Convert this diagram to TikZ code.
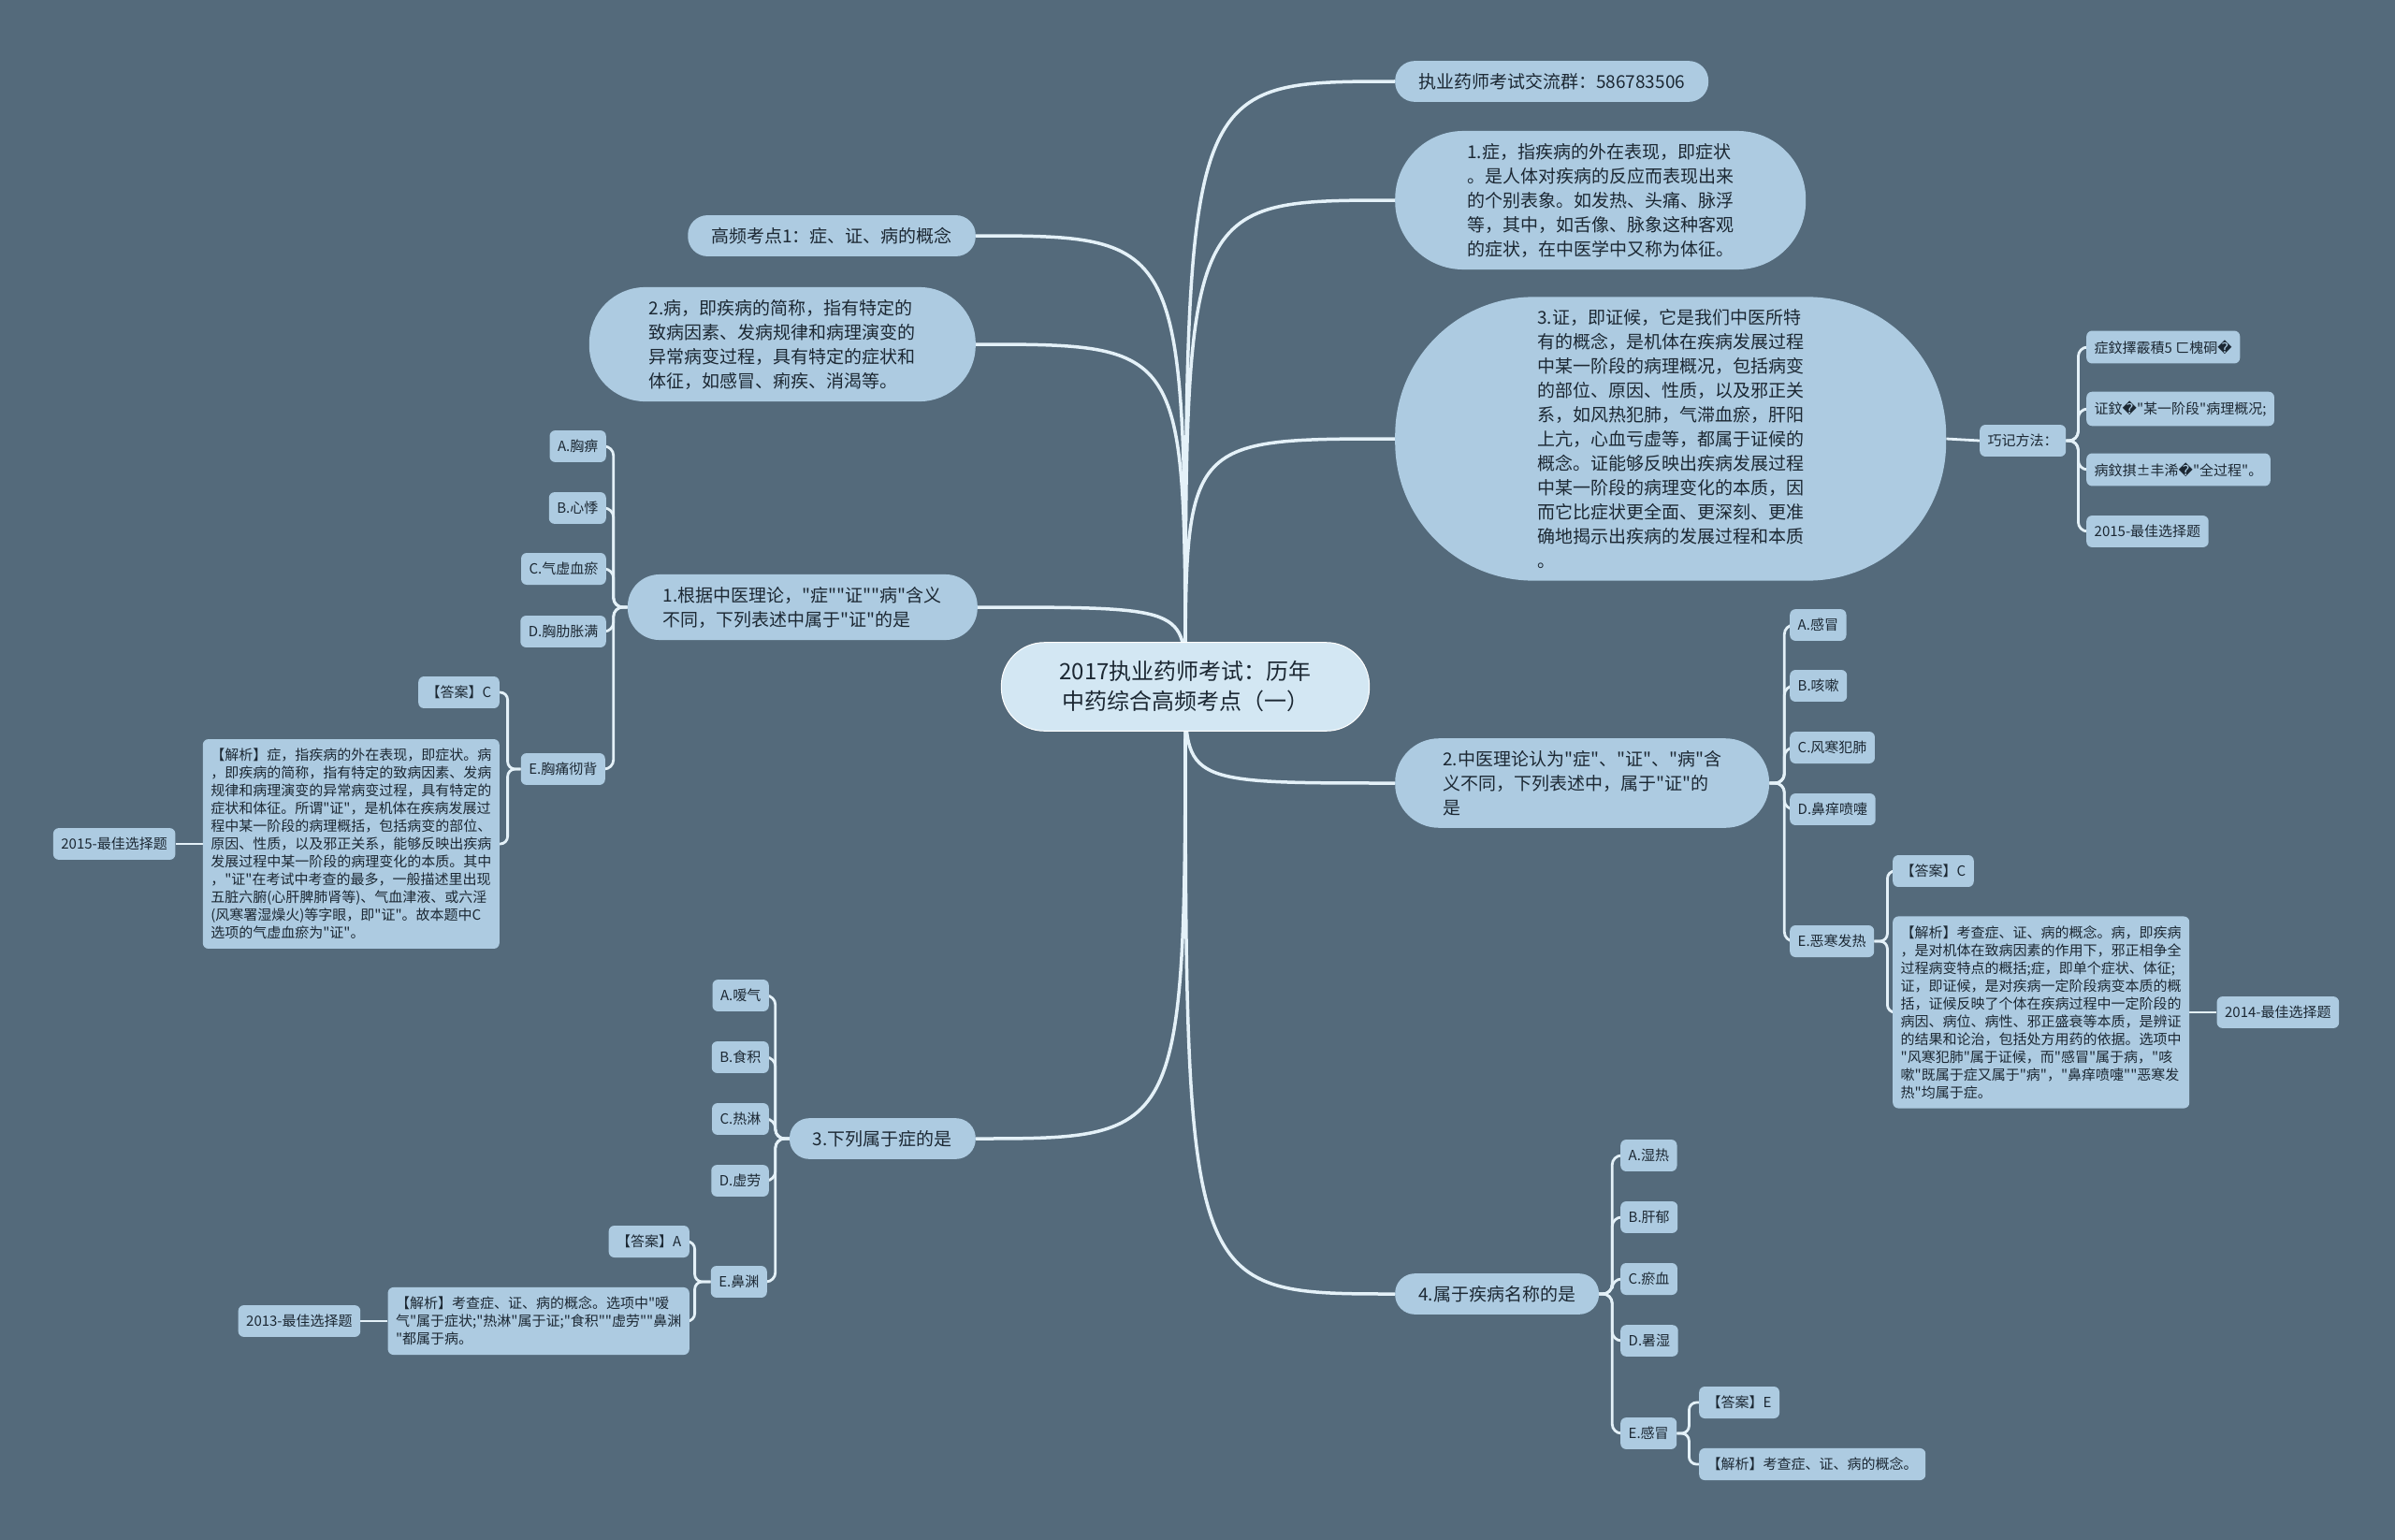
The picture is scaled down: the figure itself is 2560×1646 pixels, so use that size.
\documentclass[tikz,border=0pt]{standalone}
\usepackage{fontspec}
\setmainfont{Noto Sans CJK SC}[Ligatures=TeXOff]
\newfontfamily\dvfont{DejaVu Sans}
\usetikzlibrary{positioning,calc}

\definecolor{bgslate}{HTML}{546A7B}
\definecolor{boxblue}{HTML}{ADCBE1}
\definecolor{rootblue}{HTML}{D3E7F3}
\definecolor{linkwhite}{HTML}{E4F1F8}
\definecolor{ink}{HTML}{1C2833}
\newcommand{\repchar}{{\dvfont\symbol{"FFFD}}}

\pgfdeclarelayer{bg}
\pgfsetlayers{bg,main}

\begin{document}
\begin{tikzpicture}[x=1pt, y=-1pt,
  root/.style={rectangle, rounded corners=46pt, fill=rootblue, draw=white,
               line width=1pt, text=ink, align=center,
               inner xsep=62pt, inner ysep=20pt,
               font=\fontsize{24}{32}\selectfont},
  topic/.style={rectangle, rounded corners=#1, inner xsep=#1+4pt,
                fill=boxblue, text=ink, align=left, inner ysep=13pt,
                font=\fontsize{19}{26}\selectfont},
  leaf/.style={rectangle, rounded corners=6pt, fill=boxblue, text=ink,
               align=left, inner xsep=8.5pt, inner ysep=10pt,
               font=\fontsize{15}{19}\selectfont},
  link/.style={draw=linkwhite, line width=3.5pt},
  branch/.style={draw=linkwhite, line width=2.8pt, rounded corners=10pt}]
\useasboundingbox (0,0) rectangle (2560,1646);
\begin{pgfonlayer}{bg}
\fill[bgslate] (0,0) rectangle (2560,1646);
\end{pgfonlayer}

% centre
\node[root] (root) at (1267,734) {2017执业药师考试：历年\\中药综合高频考点（一）};

% right side
\node[topic=21pt, anchor=west] (group) at (1491,87) {执业药师考试交流群：586783506};
\node[topic=73pt, anchor=west] (zheng1) at (1491,214)
  {1.症，指疾病的外在表现，即症状\\。是人体对疾病的反应而表现出来\\的个别表象。如发热、头痛、脉浮\\等，其中，如舌像、脉象这种客观\\的症状，在中医学中又称为体征。};
\node[topic=148pt, anchor=west] (zheng3) at (1491,469)
  {3.证，即证候，它是我们中医所特\\有的概念，是机体在疾病发展过程\\中某一阶段的病理概况，包括病变\\的部位、原因、性质，以及邪正关\\系，如风热犯肺，气滞血瘀，肝阳\\上亢，心血亏虚等，都属于证候的\\概念。证能够反映出疾病发展过程\\中某一阶段的病理变化的本质，因\\而它比症状更全面、更深刻、更准\\确地揭示出疾病的发展过程和本质\\。};
\node[leaf, anchor=west] (qiji) at (2116,471) {巧记方法：};
\node[leaf, anchor=west] (c1) at (2230,371) {症鈫擇霰積5 ㄈ槐硐\repchar};
\node[leaf, anchor=west] (c2) at (2230,437) {证鈫\repchar"某一阶段"病理概况;};
\node[leaf, anchor=west] (c3) at (2230,502) {病鈫掑±丰浠\repchar"全过程"。};
\node[leaf, anchor=west] (c4) at (2230,568) {2015-最佳选择题};

\node[topic=47pt, anchor=west] (q2) at (1491,837)
  {2.中医理论认为"症"、"证"、"病"含\\义不同，下列表述中，属于"证"的\\是};
\node[leaf, anchor=west] (q2a) at (1913,668) {A.感冒};
\node[leaf, anchor=west] (q2b) at (1913,733) {B.咳嗽};
\node[leaf, anchor=west] (q2c) at (1913,799) {C.风寒犯肺};
\node[leaf, anchor=west] (q2d) at (1913,865) {D.鼻痒喷嚏};
\node[leaf, anchor=west] (q2e) at (1913,1006) {E.恶寒发热};
\node[leaf, anchor=west] (q2ans) at (2023,931) {【答案】C};
\node[leaf, anchor=west] (q2exp) at (2023,1082)
  {【解析】考查症、证、病的概念。病，即疾病\\，是对机体在致病因素的作用下，邪正相争全\\过程病变特点的概括;症，即单个症状、体征;\\证，即证候，是对疾病一定阶段病变本质的概\\括，证候反映了个体在疾病过程中一定阶段的\\病因、病位、病性、邪正盛衰等本质，是辨证\\的结果和论治，包括处方用药的依据。选项中\\"风寒犯肺"属于证候，而"感冒"属于病，"咳\\嗽"既属于症又属于"病"，"鼻痒喷嚏""恶寒发\\热"均属于症。};
\node[leaf, right=29pt of q2exp] (q2yr) {2014-最佳选择题};

\node[topic=21pt, anchor=west] (q4) at (1491,1383) {4.属于疾病名称的是};
\node[leaf, anchor=west] (q4a) at (1732,1235) {A.湿热};
\node[leaf, anchor=west] (q4b) at (1732,1301) {B.肝郁};
\node[leaf, anchor=west] (q4c) at (1732,1367) {C.瘀血};
\node[leaf, anchor=west] (q4d) at (1732,1433) {D.暑湿};
\node[leaf, anchor=west] (q4e) at (1732,1532) {E.感冒};
\node[leaf, anchor=west] (q4ans) at (1816,1499) {【答案】E};
\node[leaf, anchor=west] (q4exp) at (1816,1565) {【解析】考查症、证、病的概念。};

% left side
\node[topic=21pt, anchor=east] (gaopin) at (1043,252) {高频考点1：症、证、病的概念};
\node[topic=60pt, anchor=east] (bing2) at (1043,368)
  {2.病，即疾病的简称，指有特定的\\致病因素、发病规律和病理演变的\\异常病变过程，具有特定的症状和\\体征，如感冒、痢疾、消渴等。};

\node[topic=34pt, anchor=east] (q1) at (1045,649)
  {1.根据中医理论，"症""证""病"含义\\不同，下列表述中属于"证"的是};
\node[leaf, anchor=east] (q1a) at (648,477) {A.胸痹};
\node[leaf, anchor=east] (q1b) at (648,543) {B.心悸};
\node[leaf, anchor=east] (q1c) at (648,608) {C.气虚血瘀};
\node[leaf, anchor=east] (q1d) at (648,675) {D.胸肋胀满};
\node[leaf, anchor=east] (q1e) at (647,822) {E.胸痛彻背};
\node[leaf, anchor=east] (q1ans) at (534,740) {【答案】C};
\node[leaf, anchor=east] (q1exp) at (534,902)
  {【解析】症，指疾病的外在表现，即症状。病\\，即疾病的简称，指有特定的致病因素、发病\\规律和病理演变的异常病变过程，具有特定的\\症状和体征。所谓"证"，是机体在疾病发展过\\程中某一阶段的病理概括，包括病变的部位、\\原因、性质，以及邪正关系，能够反映出疾病\\发展过程中某一阶段的病理变化的本质。其中\\，"证"在考试中考查的最多，一般描述里出现\\五脏六腑(心肝脾肺肾等)、气血津液、或六淫\\(风寒署湿燥火)等字眼，即"证"。故本题中C\\选项的气虚血瘀为"证"。};
\node[leaf, left=29pt of q1exp] (q1yr) {2015-最佳选择题};

\node[topic=21pt, anchor=east] (q3) at (1043,1217) {3.下列属于症的是};
\node[leaf, anchor=east] (q3a) at (822,1064) {A.嗳气};
\node[leaf, anchor=east] (q3b) at (822,1130) {B.食积};
\node[leaf, anchor=east] (q3c) at (822,1196) {C.热淋};
\node[leaf, anchor=east] (q3d) at (822,1262) {D.虚劳};
\node[leaf, anchor=east] (q3e) at (820,1370) {E.鼻渊};
\node[leaf, anchor=east] (q3ans) at (737,1327) {【答案】A};
\node[leaf, anchor=east] (q3exp) at (737,1412)
  {【解析】考查症、证、病的概念。选项中"嗳\\气"属于症状;"热淋"属于证;"食积""虚劳""鼻渊\\"都属于病。};
\node[leaf, left=29pt of q3exp] (q3yr) {2013-最佳选择题};

% connectors
\begin{pgfonlayer}{bg}
\foreach \t in {group,zheng1,zheng3,q2,q4}
  \draw[link] (root.center) .. controls (root.center |- \t.west) .. (\t.west);
\foreach \t in {gaopin,bing2,q1,q3}
  \draw[link] (root.center) .. controls (root.center |- \t.east) .. (\t.east);

\draw[branch] (zheng3.east) -- (qiji.west);
\foreach \t in {c1,c2,c3,c4}
  \draw[branch] (qiji.east) -- ++(13,0) |- (\t.west);

\foreach \t in {q2a,q2b,q2c,q2d,q2e}
  \draw[branch] (q2.east) -- ++(16,0) |- (\t.west);
\foreach \t in {q2ans,q2exp}
  \draw[branch, rounded corners=8pt] (q2e.east) -- ++(14,0) |- (\t.west);
\draw[branch] (q2exp.east) -- (q2yr.west);

\foreach \t in {q4a,q4b,q4c,q4d,q4e}
  \draw[branch] (q4.east) -- ++(14,0) |- (\t.west);
\foreach \t in {q4ans,q4exp}
  \draw[branch, rounded corners=8pt] (q4e.east) -- ++(13,0) |- (\t.west);

\foreach \t in {q1a,q1b,q1c,q1d,q1e}
  \draw[branch] (q1.west) -- ++(-15,0) |- (\t.east);
\foreach \t in {q1ans,q1exp}
  \draw[branch, rounded corners=8pt] (q1e.west) -- ++(-14,0) |- (\t.east);
\draw[branch] (q1exp.west) -- (q1yr.east);

\foreach \t in {q3a,q3b,q3c,q3d,q3e}
  \draw[branch] (q3.west) -- ++(-15,0) |- (\t.east);
\foreach \t in {q3ans,q3exp}
  \draw[branch, rounded corners=8pt] (q3e.west) -- ++(-17,0) |- (\t.east);
\draw[branch] (q3exp.west) -- (q3yr.east);
\end{pgfonlayer}
\end{tikzpicture}
\end{document}
